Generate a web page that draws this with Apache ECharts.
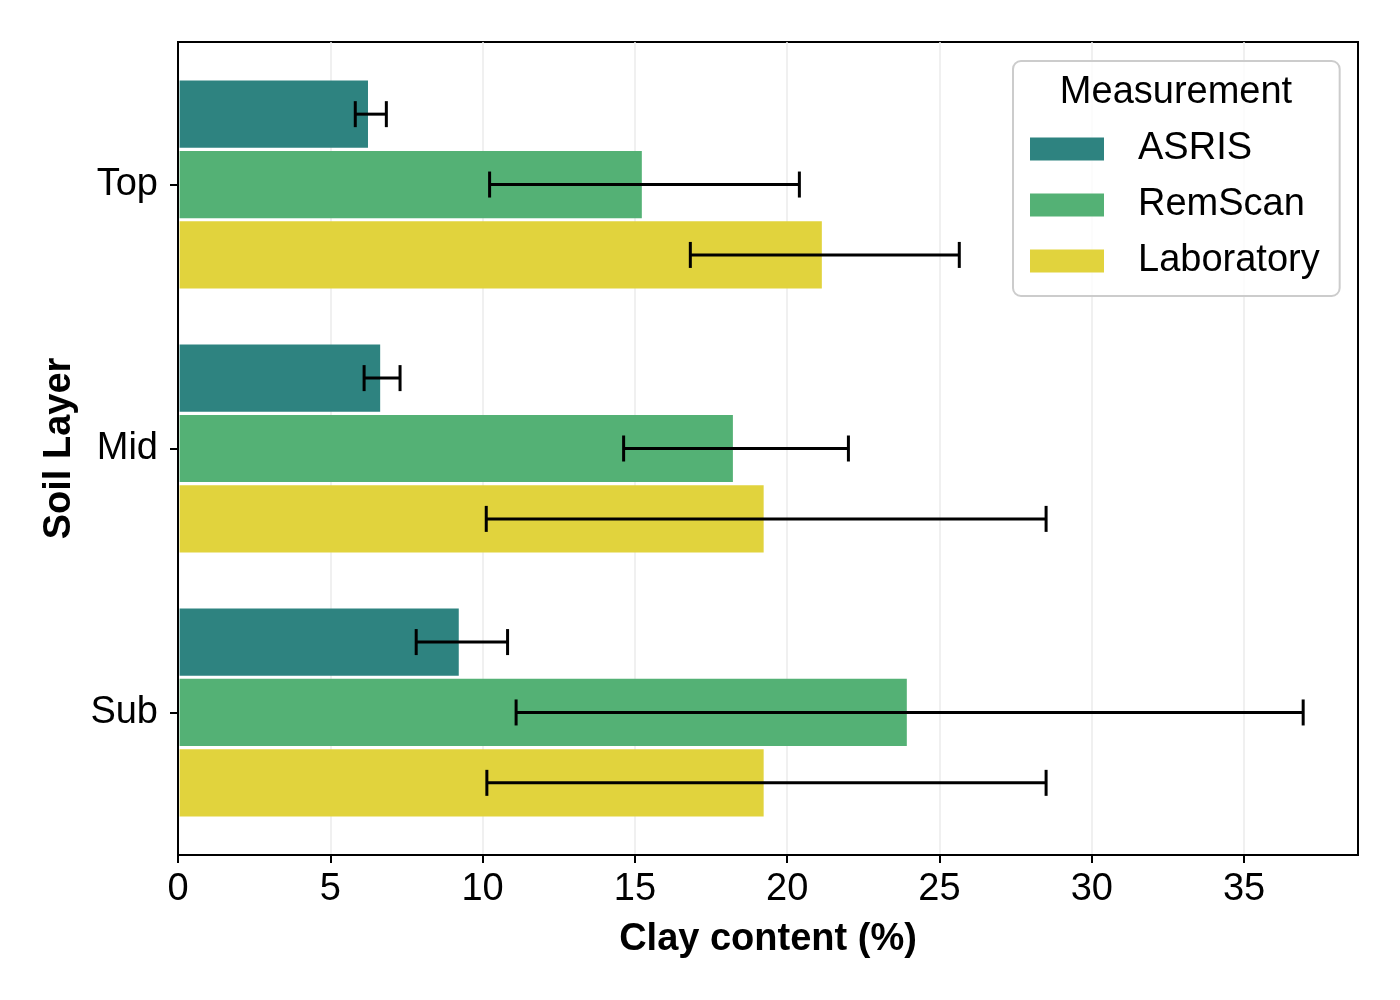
<!DOCTYPE html>
<html>
<head>
<meta charset="utf-8">
<script src="https://cdn.jsdelivr.net/npm/echarts@6/dist/echarts.min.js"></script>
<style>
html,body{margin:0;padding:0;background:#fff;}
#chart{width:1400px;height:1000px;}
</style>
</head>
<body>
<div id="chart"></div>
<script>
const LAYERS = ['Top', 'Mid', 'Sub'];
const SERIES_NAMES = ['ASRIS', 'RemScan', 'Laboratory'];
const COLORS = ['#2e8380', '#54b175', '#e1d33d'];
const X_TICKS = [0, 5, 10, 15, 20, 25, 30, 35];

const ASRIS = [6.29, 6.69, 9.27];
const ASRIS_LO = [5.82, 6.11, 7.82];
const ASRIS_HI = [6.84, 7.29, 10.82];

const REMSCAN = [15.28, 18.27, 23.98];
const REMSCAN_LO = [10.23, 14.63, 11.10];
const REMSCAN_HI = [20.40, 22.01, 36.94];

const LAB = [21.19, 19.28, 19.28];
const LAB_LO = [16.82, 10.12, 10.14];
const LAB_HI = [25.65, 28.50, 28.50];

const VALUES = [ASRIS, REMSCAN, LAB];
const LOWS = [ASRIS_LO, REMSCAN_LO, LAB_LO];
const HIGHS = [ASRIS_HI, REMSCAN_HI, LAB_HI];

const FONT = "'Liberation Sans', Arial, sans-serif";
const BAND = 0.8 / 3;
const INSET = 1.6;

function barRender(k) {
  return function (params, api) {
    const v = api.value(0), c = api.value(1);
    const yc = c + (k - 1) * BAND;
    const p0 = api.coord([0, yc - BAND / 2]);
    const p1 = api.coord([v, yc + BAND / 2]);
    const y = Math.min(p0[1], p1[1]) + INSET;
    const h = Math.abs(p1[1] - p0[1]) - 2 * INSET;
    return {
      type: 'rect',
      shape: { x: p0[0] + INSET, y: y, width: p1[0] - p0[0] - 2 * INSET, height: h },
      style: { fill: COLORS[k] }
    };
  };
}

function errRender(k) {
  return function (params, api) {
    const c = api.value(1), lo = api.value(2), hi = api.value(3);
    const yc = c + (k - 1) * BAND;
    const a = api.coord([lo, yc]);
    const b = api.coord([hi, yc]);
    const cap = 13;
    const st = { stroke: '#000000', lineWidth: 3 };
    return {
      type: 'group',
      children: [
        { type: 'line', shape: { x1: a[0], y1: a[1], x2: b[0], y2: b[1] }, style: st },
        { type: 'line', shape: { x1: a[0], y1: a[1] - cap, x2: a[0], y2: a[1] + cap }, style: st },
        { type: 'line', shape: { x1: b[0], y1: b[1] - cap, x2: b[0], y2: b[1] + cap }, style: st }
      ]
    };
  };
}

const series = [];
SERIES_NAMES.forEach(function (name, k) {
  series.push({
    name: name,
    type: 'custom',
    renderItem: barRender(k),
    itemStyle: { color: COLORS[k] },
    encode: { x: 0, y: 1 },
    z: 2,
    data: LAYERS.map(function (l, i) { return [VALUES[k][i], i]; })
  });
});
SERIES_NAMES.forEach(function (name, k) {
  series.push({
    name: name,
    type: 'custom',
    renderItem: errRender(k),
    itemStyle: { color: COLORS[k] },
    encode: { x: [2, 3], y: 1 },
    z: 5,
    data: LAYERS.map(function (l, i) { return [VALUES[k][i], i, LOWS[k][i], HIGHS[k][i]]; })
  });
});

const chart = echarts.init(document.getElementById('chart'), null, { renderer: 'canvas' });
chart.setOption({
  animation: false,
  backgroundColor: '#ffffff',
  textStyle: { fontFamily: FONT },
  grid: {
    left: 178, right: 42, top: 42, bottom: 145,
    show: true, borderColor: '#000000', borderWidth: 2, backgroundColor: 'transparent'
  },
  xAxis: {
    type: 'value', min: 0, max: 38.74, interval: 5,
    axisLine: { show: true, onZero: false, lineStyle: { color: '#000', width: 2 } },
    axisTick: { show: true, length: 8, lineStyle: { color: '#000', width: 2 }, customValues: X_TICKS },
    axisLabel: { fontSize: 38, color: '#000', margin: 16, fontFamily: FONT, customValues: X_TICKS },
    splitLine: { show: true, lineStyle: { color: '#ebebeb', width: 1.5 } },
    name: 'Clay content (%)', nameLocation: 'middle', nameGap: 66,
    nameTextStyle: { fontSize: 38, fontWeight: 'bold', color: '#000', fontFamily: FONT }
  },
  yAxis: {
    type: 'value', inverse: true, min: -0.54, max: 2.54,
    axisLine: { show: true, onZero: false, lineStyle: { color: '#000', width: 2 } },
    axisTick: { show: true, length: 8, lineStyle: { color: '#000', width: 2 }, customValues: [0, 1, 2] },
    axisLabel: {
      fontSize: 38, color: '#000', margin: 20, fontFamily: FONT, customValues: [0, 1, 2],
      formatter: function (v) { return LAYERS[Math.round(v)]; }
    },
    splitLine: { show: false },
    name: 'Soil Layer', nameLocation: 'middle', nameGap: 99, nameRotate: 90,
    nameTextStyle: { fontSize: 38, fontWeight: 'bold', color: '#000', fontFamily: FONT }
  },
  legend: {
    orient: 'vertical', left: 1013, top: 61,
    padding: [68, 20, 15, 17],
    itemWidth: 74, itemHeight: 23, itemGap: 16,
    icon: 'rect',
    data: SERIES_NAMES,
    borderColor: '#cccccc', borderWidth: 2, borderRadius: 8,
    backgroundColor: 'rgba(255,255,255,0.8)',
    textStyle: { fontSize: 38, color: '#000', lineHeight: 40, padding: [0, 0, 0, 29], fontFamily: FONT }
  },
  graphic: [{
    type: 'text', x: 1176, y: 93, z: 100,
    style: { text: 'Measurement', fontSize: 38, fill: '#000', textAlign: 'center', textVerticalAlign: 'middle', fontFamily: FONT }
  }],
  series: series
});
</script>
</body>
</html>
